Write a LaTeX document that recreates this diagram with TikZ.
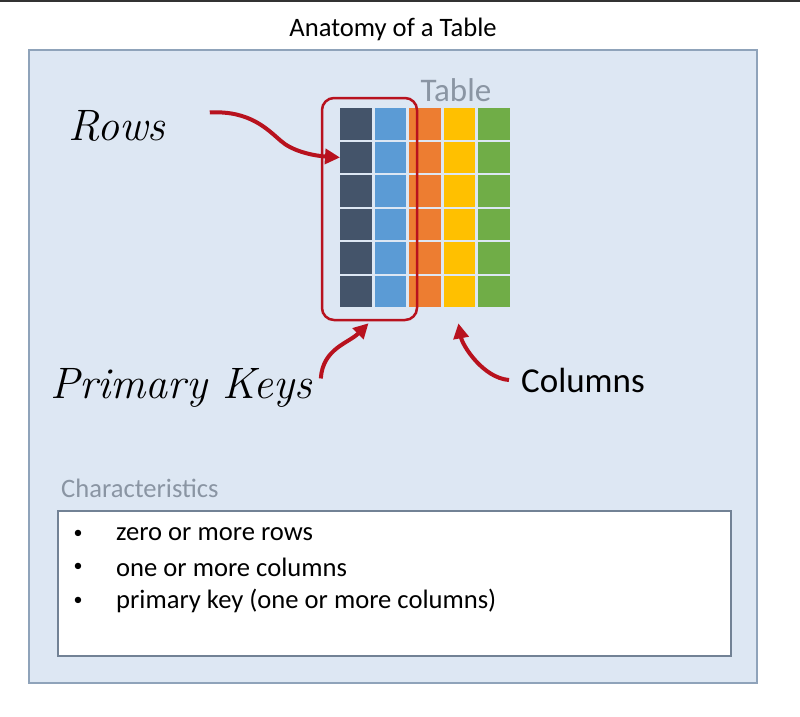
\documentclass[tikz,border=0pt]{standalone}
\usepackage{fontspec}
\newfontfamily\calibri{Carlito}
\usetikzlibrary{calc,arrows.meta}
\definecolor{panelblue}{HTML}{DDE7F3}
\definecolor{panelline}{HTML}{8FA3BA}
\definecolor{keyred}{HTML}{B8121E}
\definecolor{colA}{HTML}{44546A}
\definecolor{colB}{HTML}{5B9BD5}
\definecolor{colC}{HTML}{ED7D31}
\definecolor{colD}{HTML}{FFC000}
\definecolor{colE}{HTML}{70AD47}
\definecolor{softgray}{HTML}{8A95A3}

\begin{document}
\begin{tikzpicture}[x=1pt,y=-1pt,
  cell/.style={minimum width=31.5pt,minimum height=31.5pt,inner sep=0pt,anchor=north west},
  pointer/.style={draw=keyred,line width=4pt,-{Triangle[length=15pt,width=15pt]}},
  hand/.style={font=\fontsize{44}{48}\selectfont\itshape,anchor=base west,inner sep=0pt},
  label/.style={font=\calibri\fontsize{26.6}{30}\selectfont,inner sep=0pt}]
  % page and panels
  \useasboundingbox (0,0) rectangle (800,717);
  \fill[white] (0,0) rectangle (800,717);
  \fill[black!80] (0,0) rectangle (800,2.5);
  \filldraw[fill=panelblue,draw=panelline,line width=1.5pt] (29,50) rectangle (757,683);
  \filldraw[fill=white,draw=panelline!80!black,line width=1.2pt] (58,511) rectangle (731,656);
  \node[label] (title) at (393,29) {Anatomy of a Table};
  % the table
  \foreach \c/\col in {1/colA,2/colB,3/colC,4/colD,5/colE}
    \foreach \r in {1,...,6}
      \node[cell,fill=\col] (c-\c-\r) at ({340+34.5*(\c-1)},{108+33.5*(\r-1)}) {};
  \node[label,text=softgray,font=\calibri\fontsize{33}{36}\selectfont] (tname) at (456,90) {Table};
  \node[draw=keyred,line width=2.5pt,rounded corners=12pt,minimum width=95pt,minimum height=222pt] (pk) at (369.5,209) {};
  % labels and pointers
  \node[hand] (rows) at (68,140) {Rows};
  \node[hand] (pkeys) at (50,398) {Primary Keys};
  \node[label,anchor=west,font=\calibri\fontsize{35}{38}\selectfont] (columns) at (521,380) {Columns};
  \draw[pointer] ($(rows.east)+(44,-13)$) .. controls +(40,-2) and +(-14,-12) .. (281,141)
    .. controls +(10,9) and +(-30,-2) .. (c-1-2.west);
  \draw[pointer] ($(pkeys.east)+(9,-9)$) .. controls +(2,-30) and +(-20,20) .. ($(pk.south)+(-1,2)$);
  \draw[pointer] ($(columns.west)+(-12,0)$) .. controls +(-26,-2) and +(4,22) .. ($(c-4-6.south)+(-1,16)$);
  % characteristics
  \node[label,text=softgray,anchor=west] (chars) at (61,488) {Characteristics};
  \foreach \t [count=\i] in {zero or more rows,one or more columns,primary key (one or more columns)} {
    \node[label,font=\calibri\fontsize{18}{20}\selectfont] (dot-\i) at (78,{534+33.5*(\i-1)}) {\textbullet};
    \node[label,anchor=west] (item-\i) at (116,{534+33.5*(\i-1)}) {\t};
  }
\end{tikzpicture}
\end{document}
